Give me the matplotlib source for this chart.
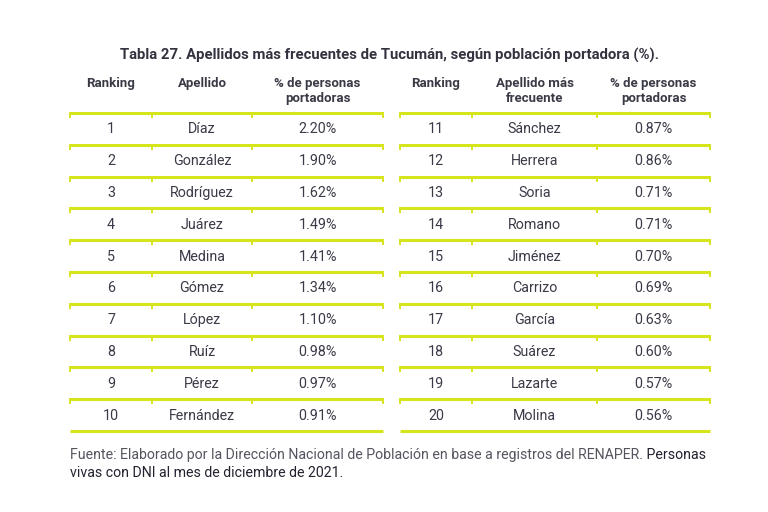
import matplotlib.pyplot as plt

# Datos de la tabla
ranking = list(range(1, 21))
apellidos = ['Díaz', 'González', 'Rodríguez', 'Juárez', 'Medina', 'Gómez', 'López',
             'Ruíz', 'Pérez', 'Fernández', 'Sánchez', 'Herrera', 'Soria', 'Romano',
             'Jiménez', 'Carrizo', 'García', 'Suárez', 'Lazarte', 'Molina']
porcentajes = [2.20, 1.90, 1.62, 1.49, 1.41, 1.34, 1.10, 0.98, 0.97, 0.91,
               0.87, 0.86, 0.71, 0.71, 0.70, 0.69, 0.63, 0.60, 0.57, 0.56]
encabezados_izq = ['Ranking', 'Apellido', '% de personas\nportadoras']
encabezados_der = ['Ranking', 'Apellido más\nfrecuente', '% de personas\nportadoras']

titulo = 'Tabla 27. Apellidos más frecuentes de Tucumán, según población portadora (%).'
fuente1 = 'Fuente: Elaborado por la Dirección Nacional de Población en base a registros del RENAPER.'
fuente2 = ' Personas'
fuente3 = 'vivas con DNI al mes de diciembre de 2021.'

plt.rcParams['font.family'] = ['Roboto', 'DejaVu Sans']
verde = '#d6e41c'
texto = '#3a3a48'

fig = plt.figure(figsize=(7.68, 5.12), dpi=100)
ax = fig.add_axes([0, 0, 1, 1])
ax.set_xlim(0, 768)
ax.set_ylim(512, 0)
ax.axis('off')

ax.text(389, 55, titulo, ha='center', va='center', fontsize=10.7,
        fontweight='bold', color='#333340')

# bordes de columnas para cada tabla
tablas = [
    ([70, 152, 252, 383], encabezados_izq, 0),
    ([400, 472, 597, 710], encabezados_der, 10),
]
y0 = 113
paso = 31.8

for bordes, encabezados, ini in tablas:
    centros = [(bordes[i] + bordes[i + 1]) / 2 for i in range(3)]
    for c, h in zip(centros, encabezados):
        if '\n' in h:
            ax.text(c, 91, h, ha='center', va='center', fontsize=9.5,
                    fontweight='bold', color='#3a3a46', linespacing=1.2)
        else:
            ax.text(c, 83, h, ha='center', va='center', fontsize=9.5,
                    fontweight='bold', color='#3a3a46')
    # líneas horizontales con marcas
    for k in range(11):
        y = y0 + k * paso
        ax.plot([bordes[0], bordes[-1]], [y, y], color=verde, lw=2.2,
                solid_capstyle='butt')
        if k < 10:
            for b in bordes:
                ax.plot([b, b], [y, y + 4], color=verde, lw=1.4)
    # filas
    for k in range(10):
        i = ini + k
        y = y0 + (k + 0.5) * paso + 0.5
        ax.text(centros[0], y, str(ranking[i]), ha='center', va='center',
                fontsize=10.3, color=texto)
        ax.text(centros[1], y, apellidos[i], ha='center', va='center',
                fontsize=10.3, color=texto)
        ax.text(centros[2], y, f'{porcentajes[i]:.2f}%', ha='center',
                va='center', fontsize=10.3, color=texto)

t = ax.text(70, 455, fuente1, ha='left', va='center', fontsize=10.2, color='#555560')
fig.canvas.draw()
bb = t.get_window_extent()
x_fin = bb.x1
ax.annotate(fuente2, xy=(x_fin, 512 - 455), xycoords='figure pixels',
            ha='left', va='center', fontsize=10.2, color='#222230')
ax.text(70, 473, fuente3, ha='left', va='center', fontsize=10.2, color='#222230')

fig.savefig('out.png', dpi=100, facecolor='white')
